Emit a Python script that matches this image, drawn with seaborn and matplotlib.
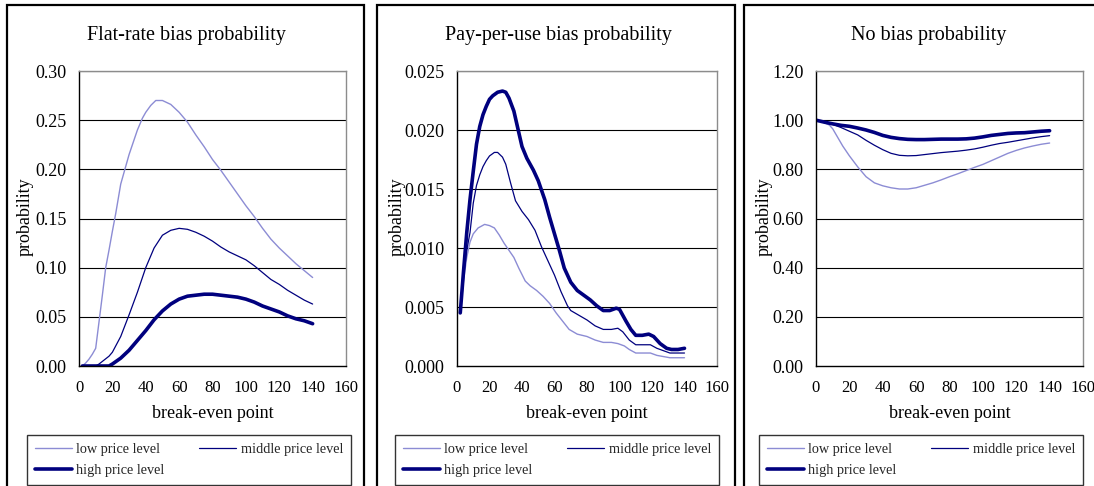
import matplotlib
matplotlib.use("Agg")
import matplotlib.pyplot as plt
from matplotlib.patches import Rectangle
from matplotlib.lines import Line2D
import seaborn as sns
import pandas as pd

# ---------------- data ----------------
titles = ["Flat-rate bias probability", "Pay-per-use bias probability", "No bias probability"]
series_names = ["low price level", "middle price level", "high price level"]

# Panel 1: flat-rate bias
flat_low_x = [2, 4, 6, 8, 10, 12, 14, 16, 18, 20, 22, 25, 28, 30, 33, 35, 38, 40, 43, 46, 50, 55, 60,
              65, 70, 75, 80, 85, 90, 95, 100, 105, 110, 115, 120, 125, 130, 135, 140]
flat_low_y = [0.0, 0.003, 0.007, 0.012, 0.018, 0.045, 0.072, 0.100, 0.118, 0.137, 0.155, 0.185, 0.203,
              0.215, 0.230, 0.240, 0.252, 0.258, 0.265, 0.270, 0.270, 0.266, 0.258, 0.248, 0.235,
              0.223, 0.210, 0.199, 0.187, 0.175, 0.163, 0.152, 0.140, 0.129, 0.120, 0.112, 0.104,
              0.097, 0.090]
flat_mid_x = [2, 6, 10, 12, 15, 18, 20, 25, 30, 35, 40, 45, 50, 55, 60, 65, 70, 75, 80, 85, 90, 95,
              100, 105, 110, 115, 120, 125, 130, 135, 140]
flat_mid_y = [0.0, 0.0, 0.0, 0.002, 0.006, 0.010, 0.014, 0.030, 0.052, 0.075, 0.100, 0.120, 0.133,
              0.138, 0.140, 0.139, 0.136, 0.132, 0.127, 0.121, 0.116, 0.112, 0.108, 0.102, 0.095,
              0.088, 0.083, 0.077, 0.072, 0.067, 0.063]
flat_high_x = [2, 10, 18, 20, 25, 30, 35, 40, 45, 50, 55, 60, 65, 70, 75, 80, 85, 90, 95, 100, 105,
               110, 115, 120, 125, 130, 135, 140]
flat_high_y = [0.0, 0.0, 0.0, 0.002, 0.008, 0.016, 0.026, 0.036, 0.047, 0.056, 0.063, 0.068, 0.071,
               0.072, 0.073, 0.073, 0.072, 0.071, 0.070, 0.068, 0.065, 0.061, 0.058, 0.055, 0.051,
               0.048, 0.046, 0.043]

# Panel 2: pay-per-use bias
ppu_low_x = [2, 4, 6, 8, 10, 13, 17, 20, 23, 26, 29, 32, 35, 38, 42, 45, 49, 53, 57, 61, 65, 69, 74,
             80, 85, 90, 95, 99, 103, 106, 110, 114, 119, 123, 127, 131, 135, 140]
ppu_low_y = [0.0045, 0.0072, 0.0092, 0.0105, 0.0112, 0.0117, 0.0120, 0.0119, 0.0117, 0.0111, 0.0104,
             0.0098, 0.0092, 0.0083, 0.0072, 0.0068, 0.0064, 0.0059, 0.0053, 0.0045, 0.0038, 0.0031,
             0.0027, 0.0025, 0.0022, 0.0020, 0.0020, 0.0019, 0.0017, 0.0014, 0.0011, 0.0011, 0.0011,
             0.0009, 0.0008, 0.0007, 0.0007, 0.0007]
ppu_mid_x = [2, 4, 6, 8, 10, 12, 14, 16, 18, 20, 23, 25, 28, 30, 33, 36, 40, 44, 48, 52, 56, 60, 64,
             68, 70, 75, 80, 85, 90, 95, 99, 102, 106, 110, 115, 119, 123, 127, 131, 135, 140]
ppu_mid_y = [0.0045, 0.0075, 0.0098, 0.0113, 0.0138, 0.0153, 0.0162, 0.0169, 0.0174, 0.0178, 0.0181,
             0.0181, 0.0177, 0.0171, 0.0155, 0.0140, 0.0131, 0.0124, 0.0115, 0.0101, 0.0089, 0.0077,
             0.0063, 0.0051, 0.0047, 0.0043, 0.0039, 0.0034, 0.0031, 0.0031, 0.0032, 0.0029, 0.0022,
             0.0018, 0.0018, 0.0018, 0.0015, 0.0013, 0.0011, 0.0011, 0.0011]
ppu_high_x = [2, 4, 6, 8, 10, 12, 14, 16, 18, 20, 22, 25, 28, 30, 32, 35, 38, 40, 43, 47, 50, 54, 57,
              60, 63, 66, 70, 74, 78, 82, 86, 90, 94, 98, 100, 104, 107, 110, 114, 118, 121, 125, 129,
              132, 136, 140]
ppu_high_y = [0.0045, 0.0080, 0.0113, 0.0141, 0.0165, 0.0188, 0.0203, 0.0213, 0.0220, 0.0226, 0.0229,
              0.0232, 0.0233, 0.0232, 0.0227, 0.0216, 0.0198, 0.0186, 0.0176, 0.0166, 0.0157, 0.0141,
              0.0126, 0.0112, 0.0098, 0.0083, 0.0071, 0.0064, 0.0060, 0.0056, 0.0051, 0.0047, 0.0047,
              0.0049, 0.0048, 0.0038, 0.0031, 0.0026, 0.0026, 0.0027, 0.0025, 0.0019, 0.0015, 0.0014,
              0.0014, 0.0015]

# Panel 3: no bias
nob_x = [0, 5, 10, 15, 20, 25, 30, 35, 40, 45, 50, 55, 60, 65, 70, 75, 80, 85, 90, 95, 100, 105, 110,
         115, 120, 125, 130, 135, 140]
nob_low_x = [0, 5, 8, 10, 13, 16, 20, 25, 30, 35, 40, 45, 50, 55, 60, 65, 70, 75, 80, 85, 90, 95, 100,
             105, 110, 115, 120, 125, 130, 135, 140]
nob_low_y = [1.0, 0.99, 0.98, 0.965, 0.93, 0.895, 0.855, 0.81, 0.77, 0.745, 0.733, 0.725, 0.72, 0.72,
             0.725, 0.735, 0.745, 0.757, 0.77, 0.782, 0.795, 0.808, 0.82, 0.835, 0.85, 0.865, 0.877,
             0.887, 0.895, 0.902, 0.907]
nob_mid_y = [1.0, 0.992, 0.983, 0.97, 0.955, 0.94, 0.918, 0.898, 0.88, 0.865, 0.857, 0.855, 0.856,
             0.86, 0.864, 0.868, 0.871, 0.874, 0.878, 0.883, 0.89, 0.898, 0.905, 0.91, 0.916, 0.922,
             0.928, 0.933, 0.937]
nob_high_y = [1.0, 0.992, 0.985, 0.979, 0.975, 0.968, 0.96, 0.95, 0.938, 0.93, 0.925, 0.922, 0.921,
              0.921, 0.922, 0.923, 0.923, 0.923, 0.924, 0.927, 0.932, 0.938, 0.942, 0.946, 0.948,
              0.949, 0.952, 0.955, 0.957]

x_ticks = [0, 20, 40, 60, 80, 100, 120, 140, 160]
y_ticks_flat = [0.00, 0.05, 0.10, 0.15, 0.20, 0.25, 0.30]
y_ticks_ppu = [0.000, 0.005, 0.010, 0.015, 0.020, 0.025]
y_ticks_nob = [0.00, 0.20, 0.40, 0.60, 0.80, 1.00, 1.20]

panels = [
    dict(title=titles[0], series=[(flat_low_x, flat_low_y), (flat_mid_x, flat_mid_y), (flat_high_x, flat_high_y)],
         yticks=y_ticks_flat, fmt="{:.2f}"),
    dict(title=titles[1], series=[(ppu_low_x, ppu_low_y), (ppu_mid_x, ppu_mid_y), (ppu_high_x, ppu_high_y)],
         yticks=y_ticks_ppu, fmt="{:.3f}"),
    dict(title=titles[2], series=[(nob_low_x, nob_low_y), (nob_x, nob_mid_y), (nob_x, nob_high_y)],
         yticks=y_ticks_nob, fmt="{:.2f}"),
]

# ---------------- style ----------------
sns.set_theme(style="white")
plt.rcParams["font.family"] = ["Liberation Serif", "DejaVu Serif"]

W, H = 1094, 486
fig = plt.figure(figsize=(W / 100, H / 100), dpi=100)
fig.patch.set_facecolor("white")

colors = ["#8C8CD4", "#00007E", "#00007E"]
widths = [1.0, 0.9, 2.6]

# pixel layout
axes_px = [(79, 346), (457, 717), (816, 1083)]
ax_top, ax_bot = 71, 366
boxes_px = [(7, 364), (377, 735), (744, 1110)]
title_cx = [186, 558, 929]
ylabel_cx = [25, 397, 764]
legend_px = [(27, 351), (395, 719), (759, 1083)]

def fx(p):
    return p / W

def fy(p):
    return (H - p) / H

for i, p in enumerate(panels):
    l, r = axes_px[i]
    ax = fig.add_axes([fx(l), fy(ax_bot), (r - l) / W, (ax_bot - ax_top) / H])
    handles = []
    for k, (xs, ys) in enumerate(p["series"]):
        df = pd.DataFrame({"break-even point": xs, "probability": ys})
        sns.lineplot(data=df, x="break-even point", y="probability", ax=ax,
                     color=colors[k], linewidth=widths[k], estimator=None, sort=False)
        handles.append(Line2D([], [], color=colors[k], linewidth=widths[k], label=series_names[k]))

    ax.set_xlim(0, 160)
    ax.set_ylim(p["yticks"][0], p["yticks"][-1])
    ax.set_xticks(x_ticks)
    ax.set_xticklabels([str(t) for t in x_ticks])
    ax.set_yticks(p["yticks"])
    ax.set_yticklabels([p["fmt"].format(t) for t in p["yticks"]])
    ax.tick_params(axis="both", direction="out", length=4, width=1, color="black",
                   labelcolor="black")
    ax.tick_params(axis="x", pad=6, labelsize=12)
    ax.tick_params(axis="y", pad=5, labelsize=13)
    ax.grid(False)
    for t in p["yticks"][1:]:
        ax.axhline(t, color="black", linewidth=0.8, zorder=0.5)
    ax.spines["left"].set_color("black")
    ax.spines["bottom"].set_color("black")
    ax.spines["left"].set_linewidth(1.0)
    ax.spines["bottom"].set_linewidth(1.0)
    ax.spines["top"].set_color("#8c8c8c")
    ax.spines["right"].set_color("#8c8c8c")
    ax.spines["top"].set_linewidth(1.0)
    ax.spines["right"].set_linewidth(1.0)

    ax.set_xlabel("break-even point", fontsize=13, color="black")
    ax.xaxis.set_label_coords(0.5, (ax_bot - 413) / (ax_bot - ax_top))
    ax.xaxis.label.set_va("center")
    ax.set_ylabel("probability", fontsize=13, color="black")
    ax.yaxis.set_label_coords((ylabel_cx[i] - l) / (r - l), 0.505)
    ax.yaxis.label.set_va("center")

    ax.text((title_cx[i] - l) / (r - l), (ax_bot - 35) / (ax_bot - ax_top), p["title"],
            transform=ax.transAxes, ha="center", va="center", fontsize=14.5, color="black")

    lx0, lx1 = legend_px[i]
    order = [handles[0], handles[2], handles[1]]
    leg = ax.legend(handles=order, ncol=2, loc="upper left",
                    bbox_to_anchor=(fx(lx0), fy(482), (lx1 - lx0) / W, (482 - 435) / H),
                    bbox_transform=fig.transFigure, mode="expand", borderaxespad=0,
                    frameon=True, fancybox=False, edgecolor="black", fontsize=10.3,
                    handlelength=2.6, handletextpad=0.3, labelspacing=0.55,
                    borderpad=0.55, columnspacing=1.0)
    leg.get_frame().set_linewidth(1.0)

    bx0, bx1 = boxes_px[i]
    fig.add_artist(Rectangle((fx(bx0), fy(500)), (bx1 - bx0) / W, (500 - 4.5) / H,
                             transform=fig.transFigure, fill=False, edgecolor="black",
                             linewidth=1.6, clip_on=False))

fig.savefig("out.png", dpi=100, facecolor="white")
